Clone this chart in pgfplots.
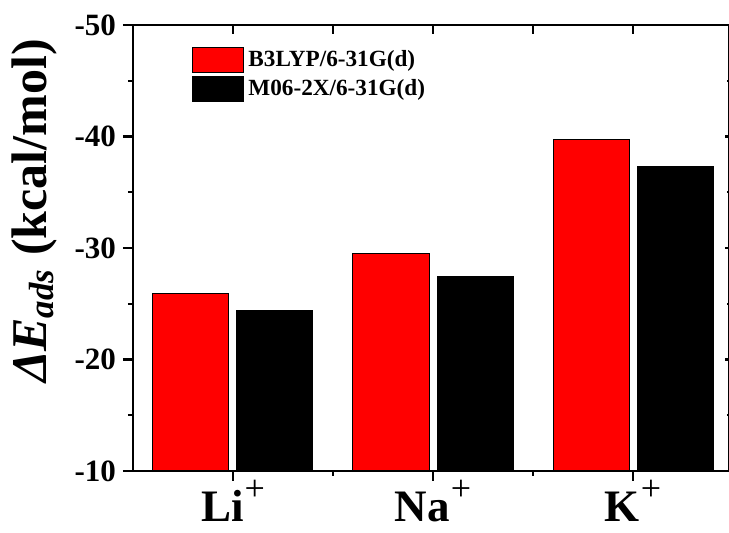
\documentclass[border=0pt]{standalone}
\usepackage{fontspec}
\setmainfont{Liberation Serif}
\usepackage{pgfplots}
\pgfplotsset{compat=1.18}
\newcommand{\plus}{\kern0.5pt\raisebox{10.5pt}{\fontsize{18}{18}\selectfont\mdseries +}}
\begin{document}
\begin{tikzpicture}
\pgfplotsset{
  common/.style={
    scale only axis, width=298.25pt, height=223pt,
    xmin=-0.5, xmax=2.4825, ymin=-50, ymax=-10, y dir=reverse,
    axis line style={line width=1.2pt},
    every tick/.style={line width=1.2pt, black},
  },
  legbox/.style={legend image code/.code={\draw[##1, line width=0.5pt] (0pt,-6.25pt) rectangle (25.5pt,6.25pt);}},
}
\begin{axis}[common,
  xtick={0,1,2},
  xticklabels={Li\plus, Na\plus, K\plus},
  minor xtick={0.5,1.5},
  ytick={-50,-40,-30,-20,-10},
  yticklabels={-50,-40,-30,-20,-10},
  minor ytick={-45,-35,-25,-15},
  xtick pos=bottom, ytick pos=left, tick align=outside,
  major tick length=5pt, minor tick length=2.5pt,
  xticklabel style={font=\bfseries\fontsize{22.5}{22.5}\selectfont, inner sep=0pt, yshift=0.5pt},
  yticklabel style={font=\bfseries\fontsize{15.5}{15.5}\selectfont},
  ylabel={\textit{ΔE}\textsubscript{\textit{ads}} (kcal/mol)},
  ylabel style={font=\bfseries\fontsize{25}{25}\selectfont, at={(axis description cs:-0.166,0.583)}, anchor=center},
  legend style={draw=none, fill=none, at={(axis description cs:0.099,0.953)}, anchor=north west,
    font=\bfseries\fontsize{11.6}{11.6}\selectfont, inner sep=0pt, row sep=1pt},
  legend cell align=left,
]
\addplot[ybar, bar width=0.38, bar shift=-0.21, fill=red, draw=black, line width=0.5pt, legbox]
  coordinates {(0,-25.9) (1,-29.5) (2,-39.7)};
\addlegendentry{B3LYP/6-31G(d)}
\addplot[ybar, bar width=0.38, bar shift=0.21, fill=black, draw=black, line width=0.5pt, legbox]
  coordinates {(0,-24.4) (1,-27.4) (2,-37.3)};
\addlegendentry{M06-2X/6-31G(d)}
\coordinate (O) at (rel axis cs:0,0);
\end{axis}
\begin{axis}[common,
  xtick={0,0.5,1,1.5,2}, xticklabels={}, ytick=\empty,
  xtick pos=top, tick align=inside, major tick length=4.5pt,
]
\end{axis}
\begin{axis}[common,
  ytick={-50,-40,-30,-20,-10}, yticklabels={}, minor ytick={-45,-35,-25,-15}, xtick=\empty,
  ytick pos=right, tick align=inside, major tick length=2.5pt, minor tick length=1.2pt,
]
\end{axis}
\pgfresetboundingbox
\path[use as bounding box] (O) ++(-66.5pt,-31pt) rectangle ++(364.5pt,266.5pt);
\end{tikzpicture}
\end{document}
